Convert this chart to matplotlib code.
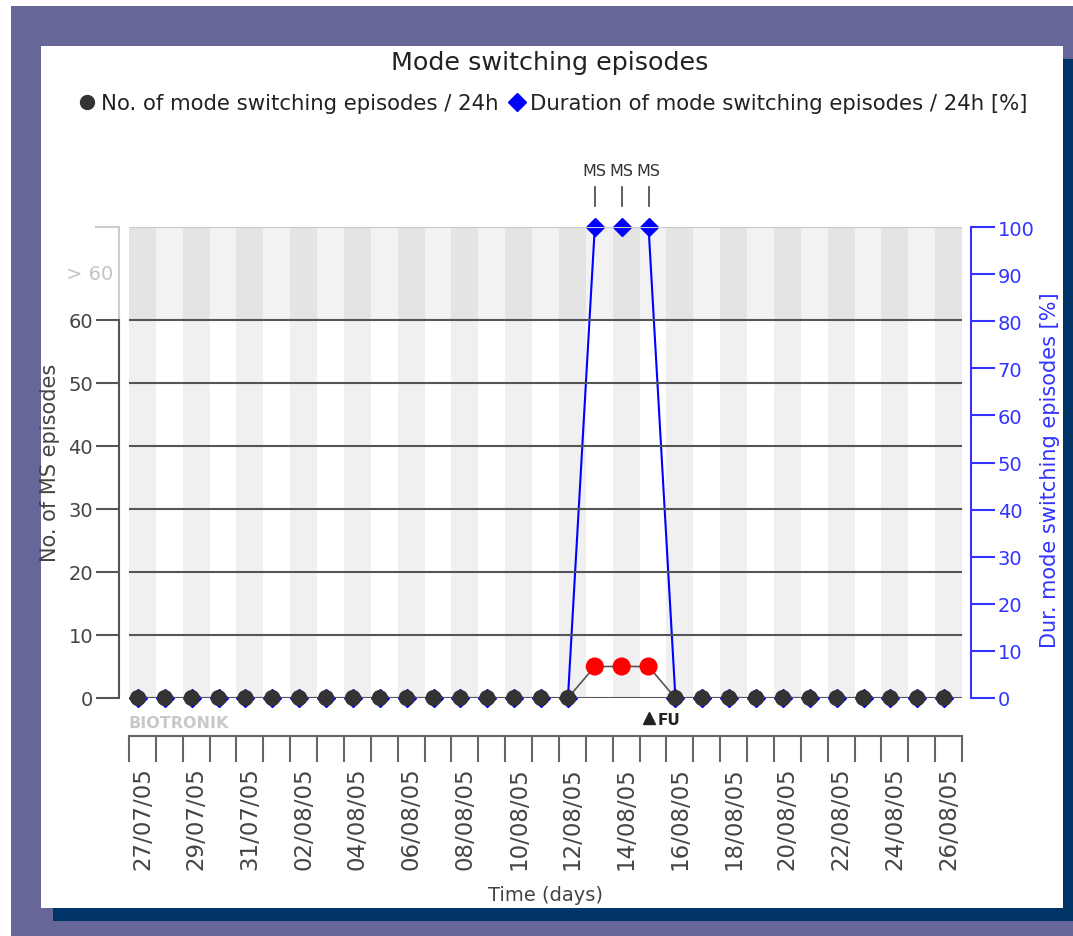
import matplotlib
matplotlib.use('Agg')
import matplotlib.pyplot as plt
from matplotlib.patches import Rectangle
from matplotlib.lines import Line2D
import matplotlib.transforms as mtransforms

# ---------------- data ----------------
dates = ['27/07/05', '28/07/05', '29/07/05', '30/07/05', '31/07/05',
         '01/08/05', '02/08/05', '03/08/05', '04/08/05', '05/08/05',
         '06/08/05', '07/08/05', '08/08/05', '09/08/05', '10/08/05',
         '11/08/05', '12/08/05', '13/08/05', '14/08/05', '15/08/05',
         '16/08/05', '17/08/05', '18/08/05', '19/08/05', '20/08/05',
         '21/08/05', '22/08/05', '23/08/05', '24/08/05', '25/08/05',
         '26/08/05']
ms_count = [0, 0, 0, 0, 0, 0, 0, 0, 0, 0, 0, 0, 0, 0, 0, 0,
            0, 5, 5, 5, 0, 0, 0, 0, 0, 0, 0, 0, 0, 0, 0]
ms_duration = [0, 0, 0, 0, 0, 0, 0, 0, 0, 0, 0, 0, 0, 0, 0, 0,
               0, 100, 100, 100, 0, 0, 0, 0, 0, 0, 0, 0, 0, 0, 0]
ms_marker_days = ['13/08/05', '14/08/05', '15/08/05']
fu_day = '15/08/05'
left_ticks = [0, 10, 20, 30, 40, 50, 60]
right_ticks = [0, 10, 20, 30, 40, 50, 60, 70, 80, 90, 100]

# ---------------- figure ----------------
W, H = 1073, 937
fig = plt.figure(figsize=(W / 100, H / 100), dpi=100)
fig.patch.set_facecolor('white')

def px_rect(x0, y0, x1, y1, color, z=-10):
    r = Rectangle((x0 / W, 1 - y1 / H), (x1 - x0) / W, (y1 - y0) / H,
                  transform=fig.transFigure, facecolor=color, edgecolor='none',
                  zorder=z)
    fig.add_artist(r)

PURPLE = '#666699'
NAVY = '#003366'
px_rect(11, 7, W, H, PURPLE)
px_rect(1063, 60, W, 922, NAVY)
px_rect(53, 909, W, 922, NAVY)
px_rect(41, 47, 1063, 909, 'white')

FS = 14
plt.rcParams['font.family'] = ['DejaVu Sans']

fig.text(550 / W, 1 - 63 / H, 'Mode switching episodes', ha='center',
         va='center', fontsize=18.3, color='#222222')

# legend
h1 = Line2D([], [], marker='o', color='#333333', ls='', ms=10)
h2 = Line2D([], [], marker='D', color='#0000ff', ls='', ms=9)
fig.legend([h1, h2], ['No. of mode switching episodes / 24h',
                      'Duration of mode switching episodes / 24h [%]'],
           loc='center', bbox_to_anchor=(555 / W, 1 - 104 / H), ncol=2,
           frameon=False, fontsize=15.3, handlelength=0.5, handletextpad=0.4,
           columnspacing=0.6, labelcolor='#222222', borderpad=0)

# ---------------- axes ----------------
n = len(dates)
x = list(range(n))
off = 0.335
ax = fig.add_axes([129 / W, 1 - 699 / H, 833 / W, 471 / H])
ax2 = ax.twinx()
ax.set_zorder(2)
ax2.set_zorder(1)
ax.patch.set_visible(False)
ax2.patch.set_visible(False)

YTOP = 74.76
ax.set_xlim(-off, n - off)
ax.set_ylim(0, YTOP)
ax2.set_ylim(0, 100)

# stripes (on ax2 so they sit behind everything)
frac60 = 60 / YTOP
for k in range(n):
    low = '#f0f0f0' if k % 2 == 0 else 'white'
    up = '#e4e4e4' if k % 2 == 0 else '#f2f2f2'
    ax2.axvspan(k - off, k + 1 - off, ymin=0, ymax=frac60, color=low, lw=0, zorder=0)
    ax2.axvspan(k - off, k + 1 - off, ymin=frac60, ymax=1, color=up, lw=0, zorder=0)

# horizontal grid lines
for v in left_ticks:
    ax.axhline(v, color='#555555', lw=1.5, zorder=1)
ax.axhline(YTOP, color='#cccccc', lw=1.5, zorder=1)

# blue series
ax2.plot(x, ms_duration, color='#0000ff', lw=1.5, zorder=3)
ax2.plot(x, ms_duration, color='#0000ff', ls='', marker='D', ms=9, zorder=4,
         clip_on=False)

# black / red series
ax.plot(x, ms_count, color='#555555', lw=1.2, zorder=3)
dot_colors = ['#ff0000' if v > 0 else '#333333' for v in ms_count]
dot_sizes = [170 if v > 0 else 135 for v in ms_count]
ax.scatter(x, ms_count, c=dot_colors, s=dot_sizes, zorder=5, linewidths=0,
           clip_on=False)

# spines
ax.spines['top'].set_visible(False)
ax2.spines['top'].set_visible(False)
ax.spines['right'].set_visible(False)
ax2.spines['left'].set_visible(False)
ax2.spines['bottom'].set_visible(False)

ax.spines['left'].set_position(('outward', 7.2))
ax.spines['left'].set_bounds(0, 60)
ax.spines['left'].set_color('#555555')
ax.spines['left'].set_linewidth(1.5)
blend = mtransforms.blended_transform_factory(ax.transAxes, ax.transData)
ax.plot([-10 / 833, -10 / 833], [60, YTOP], transform=blend, color='#cccccc',
        lw=1.5, clip_on=False)
ax.plot([-33 / 833, -10 / 833], [YTOP, YTOP], transform=blend, color='#cccccc',
        lw=1.5, clip_on=False)

ax.set_yticks(left_ticks)
ax.tick_params(axis='y', direction='out', length=16.6, width=1.5,
               color='#555555', labelcolor='#444444', labelsize=FS, pad=2)
ax.text(-16 / 833, 67.3, '> 60', transform=blend, ha='right', va='center',
        fontsize=FS, color='#c4c4c4')

ax2.spines['right'].set_position(('outward', 6.5))
ax2.spines['right'].set_color('#3333ff')
ax2.spines['right'].set_linewidth(1.5)
ax2.set_yticks(right_ticks)
ax2.tick_params(axis='y', direction='out', length=17.3, width=1.5,
                color='#3333ff', labelcolor='#3333ff', labelsize=FS, pad=2)

# bottom axis
ax.spines['bottom'].set_position(('outward', 27.4))
ax.spines['bottom'].set_color('#666666')
ax.spines['bottom'].set_linewidth(1.5)
ax.set_xticks([k - off for k in range(n + 1)])
ax.set_xticklabels([])
ax.tick_params(axis='x', which='major', direction='out', length=18.7,
               width=1.5, color='#666666')
ax.set_xticks([k + 0.165 for k in range(0, n, 2)], minor=True)
ax.set_xticklabels(dates[::2], minor=True, rotation=90, fontsize=16.5,
                   color='#444444')
ax.tick_params(axis='x', which='minor', length=0, pad=22)

# MS markers above the plot
blend_x = mtransforms.blended_transform_factory(ax.transData, ax.transAxes)
for d in ms_marker_days:
    xi = dates.index(d)
    ax.text(xi, 1.121, 'MS', transform=blend_x, ha='center', va='center',
            fontsize=11.5, color='#333333')
    ax.plot([xi, xi], [1.045, 1.085], transform=blend_x, color='#444444',
            lw=1.2, clip_on=False)

# FU marker
xf = dates.index(fu_day)
ax.plot([xf], [-0.043], transform=blend_x, marker='^', color='#222222',
        ms=8, clip_on=False)
ax.text(xf + 0.35, -0.045, 'FU', transform=blend_x, ha='left', va='center',
        fontsize=11, fontweight='bold', color='#222222')

# BIOTRONIK watermark
ax.text(0, -0.053, 'BIOTRONIK', transform=ax.transAxes, ha='left',
        va='center', fontsize=11.5, fontweight='bold', color='#c8c8c8')

# axis titles
fig.text(50 / W, 1 - 463 / H, 'No. of MS episodes', rotation=90, ha='center',
         va='center', fontsize=15, color='#444444')
fig.text(1050 / W, 1 - 470 / H, 'Dur. mode switching episodes [%]',
         rotation=90, ha='center', va='center', fontsize=15, color='#3333ff')
fig.text(545 / W, 1 - 896 / H, 'Time (days)', ha='center', va='center',
         fontsize=14, color='#444444')

fig.savefig('out.png', dpi=100)
